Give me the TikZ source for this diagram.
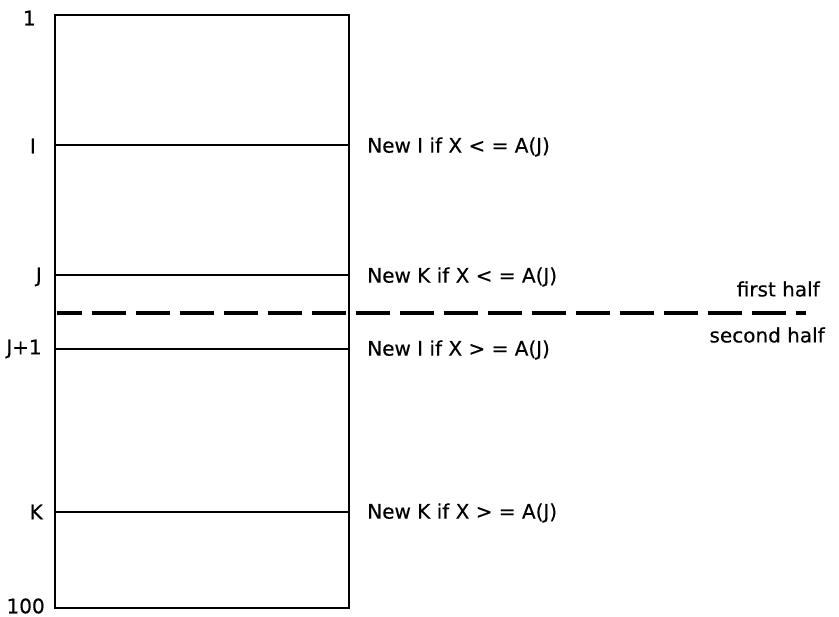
\documentclass[tikz,border=0pt]{standalone}
\usepackage{fontspec}
\setmainfont{DejaVu Sans}[FakeBold=0.4]
\begin{document}
\begin{tikzpicture}[x=0.75pt,y=-0.75pt,
  lbl/.style={font=\fontsize{15}{18}\selectfont,inner sep=0pt},
  cut/.style={line width=2.1pt}]
\useasboundingbox (0,0) rectangle (839,617);
% the array
\draw[line width=2.2pt] (55,15) rectangle (349,608);
\foreach \y in {145,275,349,512} \draw[cut] (55,\y) -- (349,\y);
% index labels
\node[lbl,anchor=east] (one) at (36,18) {1};
\node[lbl,anchor=east] (idxI) at (36,146) {I};
\node[lbl,anchor=east] (idxJ) at (42,277) {J};
\node[lbl,anchor=east] (idxJone) at (42,349) {J+1};
\node[lbl,anchor=east] (idxK) at (43,512) {K};
\node[lbl,anchor=east] (hundred) at (45,606) {100};
% rules
\node[lbl,anchor=west] (newIlo) at (367,147) {New I if X < = A(J)};
\node[lbl,anchor=west] (newKlo) at (367,277) {New K if X < = A(J)};
\node[lbl,anchor=west] (newIhi) at (367,350) {New I if X > = A(J)};
\node[lbl,anchor=west] (newKhi) at (367,513) {New K if X > = A(J)};
% the split
\draw[line width=2.3pt,dash pattern=on 26pt off 7pt,dash phase=7pt] (57,313) -- (806,313);
\node[lbl,anchor=east] (first) at (820,289) {first half};
\node[lbl,anchor=east] (second) at (825,335) {second half};
\end{tikzpicture}
\end{document}
